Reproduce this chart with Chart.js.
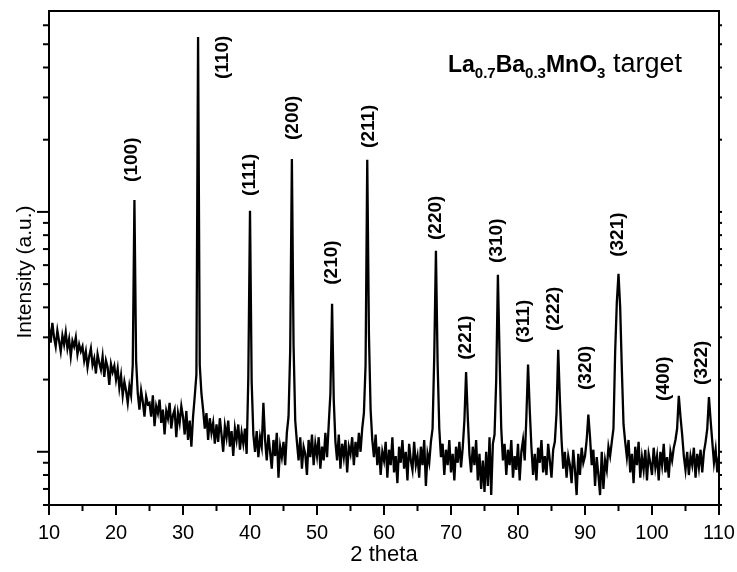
<!DOCTYPE html>
<html>
<head>
<meta charset="utf-8">
<script src="https://cdn.jsdelivr.net/npm/chart.js@4.4.1/dist/chart.umd.min.js"></script>
<style>
  body { margin: 0; background: #fff; }
  canvas { display: block; }
</style>
</head>
<body>
<canvas id="xrd" width="737" height="572"></canvas>
<script>
// scan: 10 -> 110 deg, step 0.25 (counts, log axis)
const scanStart = 10;
const scanStep = 0.25;
const counts = [
  330, 285, 345, 300, 275, 320, 290, 262, 305, 280, 315, 270, 295, 250, 290, 275, 300, 255, 280, 262,
  275, 240, 262, 225, 250, 270, 230, 245, 212, 255, 235, 220, 250, 205, 240, 225, 190, 232, 215, 228,
  200, 222, 185, 208, 172, 196, 180, 160, 188, 172, 230, 1122, 240, 175, 150, 180, 162, 140, 170, 158,
  160, 140, 172, 128, 155, 145, 165, 132, 150, 118, 148, 138, 160, 125, 142, 150, 115, 145, 132, 155,
  140, 118, 148, 112, 135, 105, 140, 170, 210, 5358, 230, 175, 150, 125, 145, 112, 138, 120, 132, 108,
  130, 110, 138, 118, 100, 128, 115, 135, 105, 122, 96, 125, 112, 130, 102, 120, 108, 125, 98, 205,
  1010, 195, 118, 100, 122, 95, 115, 105, 160, 112, 92, 118, 100, 85, 112, 96, 120, 78, 105, 95,
  110, 88, 120, 140, 265, 1663, 280, 135, 110, 92, 115, 85, 105, 98, 80, 112, 95, 118, 88, 108,
  96, 115, 85, 105, 92, 120, 95, 130, 175, 414, 165, 110, 92, 118, 85, 108, 95, 112, 82, 105,
  98, 115, 88, 110, 95, 120, 100, 125, 145, 230, 1648, 310, 150, 112, 95, 118, 88, 105, 80, 100,
  92, 110, 78, 102, 88, 115, 82, 96, 74, 105, 90, 112, 85, 100, 76, 108, 92, 84, 110, 88,
  96, 78, 105, 88, 112, 72, 98, 90, 110, 125, 250, 688, 235, 125, 95, 108, 80, 102, 88, 112,
  82, 98, 76, 105, 90, 110, 86, 104, 135, 215, 140, 98, 82, 105, 88, 112, 76, 98, 70, 92,
  68, 100, 72, 115, 66, 108, 118, 200, 547, 250, 125, 92, 108, 80, 102, 88, 112, 78, 96, 84,
  108, 76, 100, 112, 92, 140, 231, 150, 105, 80, 98, 76, 104, 90, 112, 82, 96, 80, 108, 92,
  78, 102, 110, 145, 266, 165, 112, 85, 100, 78, 96, 88, 74, 102, 84, 66, 98, 80, 104, 90,
  96, 112, 143, 115, 88, 102, 72, 95, 80, 66, 100, 70, 92, 84, 105, 96, 110, 125, 260, 420,
  552, 400, 220, 130, 110, 95, 112, 82, 98, 74, 105, 88, 110, 78, 95, 84, 102, 76, 98, 90,
  80, 104, 86, 96, 76, 100, 88, 108, 82, 95, 78, 100, 92, 104, 112, 125, 171, 140, 118, 96,
  84, 100, 80, 96, 88, 104, 78, 98, 86, 102, 82, 100, 110, 125, 169, 135, 110, 90, 102, 82,
  96
];

// reflections: Miller indices and where each label sits (angle, counts)
const hkl = ['(100)', '(110)', '(111)', '(200)', '(210)', '(211)', '(220)', '(221)',
             '(310)', '(311)', '(222)', '(320)', '(321)', '(400)', '(322)'];
const labelAngle = [22.4, 36.0, 40.0, 46.4, 52.2, 57.8, 67.8, 72.2,
                    76.9, 80.9, 85.4, 90.1, 94.9, 101.7, 107.5];
const labelCounts = [1334, 3581, 1166, 1995, 497, 1848, 764, 242,
                     613, 284, 319, 181, 650, 163, 190];

const xTicks = [10, 20, 30, 40, 50, 60, 70, 80, 90, 100, 110];

const trace = counts.map((c, i) => ({ x: scanStart + i * scanStep, y: c }));

const FONT = "'Liberation Sans', Arial, sans-serif";

function line(ctx, x1, y1, x2, y2) {
    ctx.beginPath();
    ctx.moveTo(x1, y1);
    ctx.lineTo(x2, y2);
    ctx.stroke();
}

const decor = {
    id: 'decor',
    afterDraw(chart) {
        const { ctx, chartArea: a, scales: { x, y } } = chart;
        ctx.save();
        ctx.strokeStyle = '#000';
        ctx.fillStyle = '#000';
        ctx.lineWidth = 2;
        ctx.strokeRect(a.left, a.top, a.right - a.left, a.bottom - a.top);

        // bottom ticks, every 5 deg
        for (let v = x.min; v <= x.max; v += 5) {
            const px = x.getPixelForValue(v);
            line(ctx, px, a.bottom, px, a.bottom + (v % 10 === 0 ? 10 : 6));
        }

        // log ticks on left (out) and right (small)
        for (let d = 1; d <= 10000; d *= 10) {
            for (let k = 1; k <= 9; k++) {
                const v = k * d;
                if (v < y.min || v > y.max) continue;
                const py = y.getPixelForValue(v);
                line(ctx, a.left, py, a.left - (k === 1 ? 12 : 6), py);
                line(ctx, a.right, py, a.right + 3, py);
            }
        }

        // y title
        ctx.save();
        ctx.translate(25, 272);
        ctx.rotate(-Math.PI / 2);
        ctx.font = '21px ' + FONT;
        ctx.textAlign = 'center';
        ctx.textBaseline = 'middle';
        ctx.fillText('Intensity (a.u.)', 0, 0);
        ctx.restore();

        // peak labels
        ctx.font = 'bold 19px ' + FONT;
        ctx.textAlign = 'left';
        ctx.textBaseline = 'middle';
        hkl.forEach((t, i) => {
            ctx.save();
            ctx.translate(x.getPixelForValue(labelAngle[i]), y.getPixelForValue(labelCounts[i]));
            ctx.rotate(-Math.PI / 2);
            ctx.fillText(t, 0, 0);
            ctx.restore();
        });

        // sample name with subscripts
        const parts = [
            ['La', 'bold 23px', 0], ['0.7', 'bold 15px', 6], ['Ba', 'bold 23px', 0], ['0.3', 'bold 15px', 6],
            ['MnO', 'bold 23px', 0], ['3', 'bold 15px', 6], [' target', '27px', 0]
        ];
        let tx = a.left + 399;
        const ty = a.top + 61;
        ctx.textBaseline = 'alphabetic';
        parts.forEach(p => {
            ctx.font = p[1] + ' ' + FONT;
            ctx.fillText(p[0], tx, ty + p[2]);
            tx += ctx.measureText(p[0]).width;
        });
        ctx.restore();
    }
};

new Chart(document.getElementById('xrd'), {
    type: 'line',
    data: {
        datasets: [{
            data: trace,
            borderColor: '#000',
            borderWidth: 2.3,
            pointRadius: 0,
            tension: 0,
            fill: false
        }]
    },
    options: {
        responsive: false,
        animation: false,
        layout: { padding: { top: 11, right: 0, left: 0, bottom: 0 } },
        plugins: { legend: { display: false }, tooltip: { enabled: false } },
        scales: {
            x: {
                type: 'linear',
                min: 10, max: 110,
                grid: { display: false },
                border: { display: false },
                afterBuildTicks: s => { s.ticks = xTicks.map(v => ({ value: v })); },
                ticks: { color: '#000', padding: 8, font: { family: FONT, size: 20 }, maxRotation: 0 },
                title: { display: true, text: '2 theta', color: '#000', font: { family: FONT, size: 22 } },
                afterFit: s => { s.height = 67; s.paddingRight = 18; s.paddingLeft = 0; }
            },
            y: {
                type: 'logarithmic',
                min: 60, max: 6880,
                grid: { display: false },
                border: { display: false },
                ticks: { display: false },
                afterFit: s => { s.width = 49; }
            }
        }
    },
    plugins: [decor]
});
</script>
</body>
</html>
